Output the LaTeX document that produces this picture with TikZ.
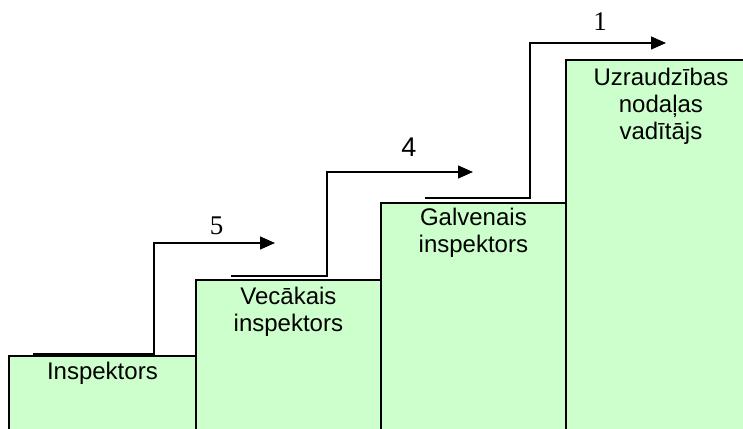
\documentclass[tikz,border=0pt]{standalone}
\usepackage{fontspec}
\setmainfont{Liberation Sans}
\newfontfamily\numserif{Liberation Serif}
\usepackage{xcolor}
\usetikzlibrary{arrows.meta}
\definecolor{boxgreen}{HTML}{CCFFCC}
\tikzset{
  stepbox/.style={draw=black,fill=boxgreen,line width=1.8pt,anchor=north west,inner sep=0pt},
  boxtext/.style={anchor=north,inner sep=0pt,align=center,font=\fontsize{24}{27}\selectfont},
  rank/.style={inner sep=0pt,font=\fontsize{27}{30}\selectfont},
  riser/.style={line width=1.3pt,-{Triangle[length=15pt,width=13pt]}}
}

\begin{document}
\begin{tikzpicture}[x=1pt,y=-1pt]
\useasboundingbox (0,0) rectangle (743,428);
\clip (0,0) rectangle (743,428);
% the four steps
\node[stepbox,minimum width=187pt,minimum height=90pt] (b1) at (8,355) {};
\node[stepbox,minimum width=185pt,minimum height=166pt] (b2) at (195,279) {};
\node[stepbox,minimum width=185pt,minimum height=243pt] (b3) at (380,202) {};
\node[stepbox,minimum width=190pt,minimum height=386pt] (b4) at (565,59) {};
\node[boxtext] (t1) at ([yshift=-7pt]b1.north) {Inspektors};
\node[boxtext] (t2) at ([yshift=-8pt]b2.north) {Vecākais\\inspektors};
\node[boxtext] (t3) at ([yshift=-6pt]b3.north) {Galvenais\\inspektors};
\node[boxtext] (t4) at ([yshift=-9pt]b4.north) {Uzraudzības\\nodaļas\\vadītājs};
% arrows between steps
\coordinate (s5) at (33,354);
\coordinate (k5) at (154,243);
\coordinate (e5) at (275,243);
\coordinate (s4) at (231,276);
\coordinate (k4) at (327,172);
\coordinate (e4) at (473,172);
\coordinate (s1) at (425,198);
\coordinate (k1) at (530,43);
\coordinate (e1) at (666,43);
\draw[riser] (s5) -| (k5) -- (e5);
\draw[riser] (s4) -| (k4) -- (e4);
\draw[riser] (s1) -| (k1) -- (e1);
\node[rank,font=\numserif\fontsize{27}{30}\selectfont] (n5) at (216.5,226) {5};
\node[rank] (n4) at (409,147.5) {4};
\node[rank,font=\numserif\fontsize{27}{30}\selectfont] (n1) at (600,22) {1};
\end{tikzpicture}
\end{document}
